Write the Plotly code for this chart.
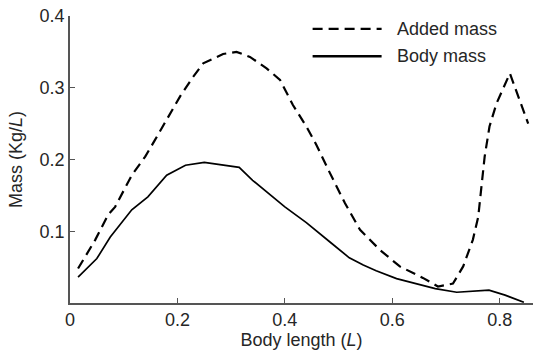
import plotly.graph_objects as go

# Body mass (solid)
body_x = [0.015, 0.05, 0.075, 0.115, 0.145, 0.18, 0.215, 0.25, 0.315, 0.34, 0.40, 0.44,
          0.484, 0.52, 0.546, 0.57, 0.608, 0.64, 0.68, 0.72, 0.75, 0.78, 0.81, 0.845]
body_y = [0.036, 0.062, 0.092, 0.130, 0.148, 0.178, 0.192, 0.196, 0.189, 0.171, 0.134, 0.112,
          0.085, 0.063, 0.053, 0.045, 0.034, 0.028, 0.020, 0.015, 0.016, 0.018, 0.011, 0.001]

# Added mass (dashed)
added_x = [0.015, 0.047, 0.071, 0.084, 0.115, 0.14, 0.158, 0.205, 0.229, 0.248, 0.285, 0.31,
           0.335, 0.366, 0.391, 0.415, 0.44, 0.459, 0.484, 0.512, 0.54, 0.577, 0.614, 0.657,
           0.685, 0.713, 0.732, 0.75, 0.76, 0.766, 0.772, 0.781, 0.794, 0.819, 0.853]
added_y = [0.048, 0.088, 0.123, 0.134, 0.178, 0.204, 0.227, 0.288, 0.315, 0.334, 0.347, 0.350,
           0.343, 0.327, 0.311, 0.276, 0.246, 0.220, 0.181, 0.139, 0.102, 0.074, 0.051, 0.035,
           0.023, 0.027, 0.051, 0.088, 0.120, 0.167, 0.204, 0.246, 0.278, 0.320, 0.250]

x_ticks = [0, 0.2, 0.4, 0.6, 0.8]
x_labels = ["0", "0.2", "0.4", "0.6", "0.8"]
y_ticks = [0.1, 0.2, 0.3, 0.4]
y_labels = ["0.1", "0.2", "0.3", "0.4"]

FONT = "Liberation Sans, Arial, sans-serif"
TXT = "#262626"
AX = "#555555"
FS = 18
DASH = "10px,6px"

fig = go.Figure()
fig.add_trace(go.Scatter(x=added_x, y=added_y, mode="lines", name="Added mass",
                         line=dict(color="black", width=2.2, dash=DASH)))
fig.add_trace(go.Scatter(x=body_x, y=body_y, mode="lines", name="Body mass",
                         line=dict(color="black", width=1.7)))

# manual legend (paper coordinates)
for yy, dash, w in [(0.955, DASH, 2.4), (0.86, "solid", 2.4)]:
    fig.add_shape(type="line", xref="paper", yref="paper", x0=0.524, x1=0.673, y0=yy, y1=yy,
                  line=dict(color="black", width=w, dash=dash))
fig.add_annotation(xref="paper", yref="paper", x=0.703, y=0.955, text="Added mass",
                   showarrow=False, xanchor="left", yanchor="middle",
                   font=dict(size=FS, color=TXT, family=FONT))
fig.add_annotation(xref="paper", yref="paper", x=0.703, y=0.86, text="Body mass",
                   showarrow=False, xanchor="left", yanchor="middle",
                   font=dict(size=FS, color=TXT, family=FONT))

fig.update_layout(
    width=533, height=352,
    margin=dict(l=70, r=0, t=16, b=49),
    paper_bgcolor="white", plot_bgcolor="white",
    showlegend=False,
    font=dict(family=FONT, size=FS, color=TXT),
    xaxis=dict(range=[0, 0.862], tickvals=x_ticks, ticktext=x_labels,
               ticks="inside", ticklen=5, tickcolor=AX, showgrid=False, zeroline=False,
               showline=True, linecolor=AX, linewidth=1.5,
               title=dict(text="Body length (<i>L</i>)", standoff=1,
                          font=dict(size=FS, color=TXT))),
    yaxis=dict(range=[0, 0.4], tickvals=y_ticks, ticktext=y_labels,
               ticks="inside", ticklen=5, tickcolor=AX, showgrid=False, zeroline=False,
               showline=True, linecolor=AX, linewidth=1.5,
               title=dict(text="Mass (Kg/<i>L</i>)", standoff=12,
                          font=dict(size=FS, color=TXT))),
)

fig.write_html("out.html")
